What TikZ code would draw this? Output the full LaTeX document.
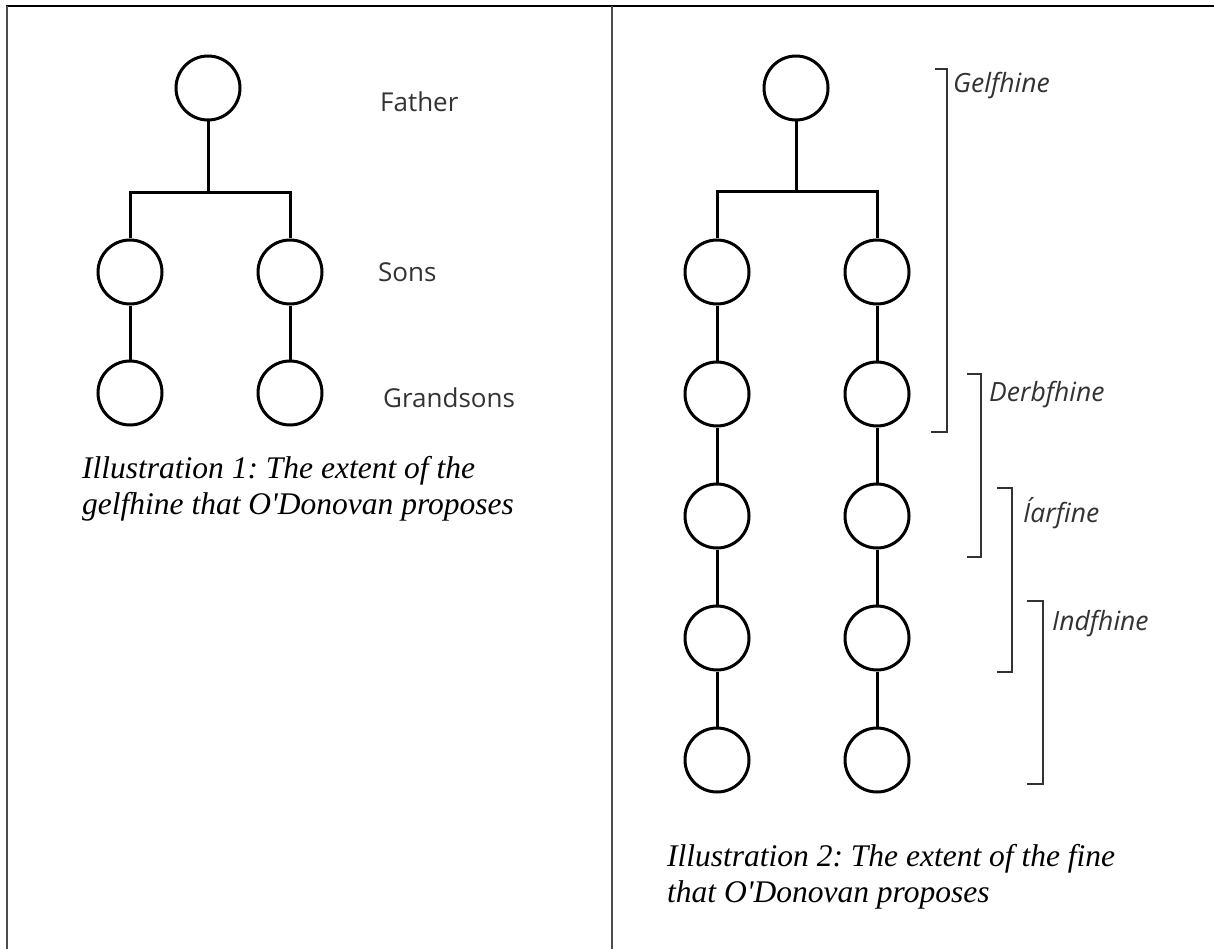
\documentclass[tikz,border=0pt]{standalone}
\usepackage{fontspec}
\setmainfont{Liberation Serif}
\newfontfamily\labelfont{Open Sans}
\frenchspacing
\begin{document}
\begin{tikzpicture}[x=1pt,y=-1pt,
  person/.style={circle,draw=black,line width=3pt,minimum size=64pt,inner sep=0pt},
  link/.style={draw=black,line width=3pt},
  gen/.style={font=\labelfont\fontsize{26}{30}\selectfont,text=black!80,anchor=west,inner sep=0pt},
  kin/.style={font=\labelfont\itshape\fontsize{26.5}{30}\selectfont,text=black!80,anchor=west,inner sep=0pt},
  brace/.style={draw=black!80,line width=2pt},
  caption/.style={font=\itshape\fontsize{31.5}{36}\selectfont,anchor=base west,inner sep=0pt},
  frame/.style={draw=black!70,line width=2pt}]
\useasboundingbox (0,0) rectangle (1214,949);
\fill[white] (0,0) rectangle (1214,949);

% table frame
\draw[frame,draw=black] (6,6) -- (1214,6);
\draw[frame] (7,6) -- (7,949);
\draw[frame] (612,6) -- (612,949);

% ---- left cell: father, sons, grandsons
\node[person] (f)  at (208,88) {};
\node[person] (s1) at (130,272) {};
\node[person] (s2) at (290,272) {};
\node[person] (g1) at (130,393) {};
\node[person] (g2) at (290,393) {};
\coordinate (jL) at (208,193);
\draw[link] (f) -- (jL);
\draw[link] (s1) |- (jL) -| (s2);
\draw[link] (s1) -- (g1);
\draw[link] (s2) -- (g2);

\node[gen] (lf) at (380,102) {Father};
\node[gen] (ls) at (378,272) {Sons};
\node[gen] (lg) at (383,398) {Grandsons};

\node[caption] (c1a) at (82,478) {Illustration 1: The extent of the};
\node[caption] (c1b) at (82,514) {gelfhine that O\textquotesingle Donovan proposes};

% ---- right cell: five generations of the fine
\node[person] (r0) at (796,88) {};
\foreach \i/\y in {1/272,2/394,3/516,4/638,5/760}{
  \node[person] (a\i) at (717,\y) {};
  \node[person] (b\i) at (877,\y) {};
}
\coordinate (jR) at (796,192);
\draw[link] (r0) -- (jR);
\draw[link] (a1) |- (jR) -| (b1);
\foreach \i/\j in {1/2,2/3,3/4,4/5}{
  \draw[link] (a\i) -- (a\j);
  \draw[link] (b\i) -- (b\j);
}

% brackets marking the kin groups
\draw[brace] (935,69) -- (947,69) -- (947,432) -- (931,432);
\draw[brace] (967,374) -- (981,374) -- (981,557) -- (967,557);
\draw[brace] (997,488) -- (1012,488) -- (1012,672) -- (997,672);
\draw[brace] (1027,601) -- (1043,601) -- (1043,784) -- (1027,784);

\node[kin] (kg) at (953,86) {Gelfhine};
\node[kin] (kd) at (989,395) {Derbfhine};
\node[kin] (ki) at (1023,513) {Íarfine};
\node[kin] (kn) at (1052,624) {Indfhine};

\node[caption] (c2a) at (667,866) {Illustration 2: The extent of the fine};
\node[caption] (c2b) at (667,902) {that O\textquotesingle Donovan proposes};
\end{tikzpicture}
\end{document}
